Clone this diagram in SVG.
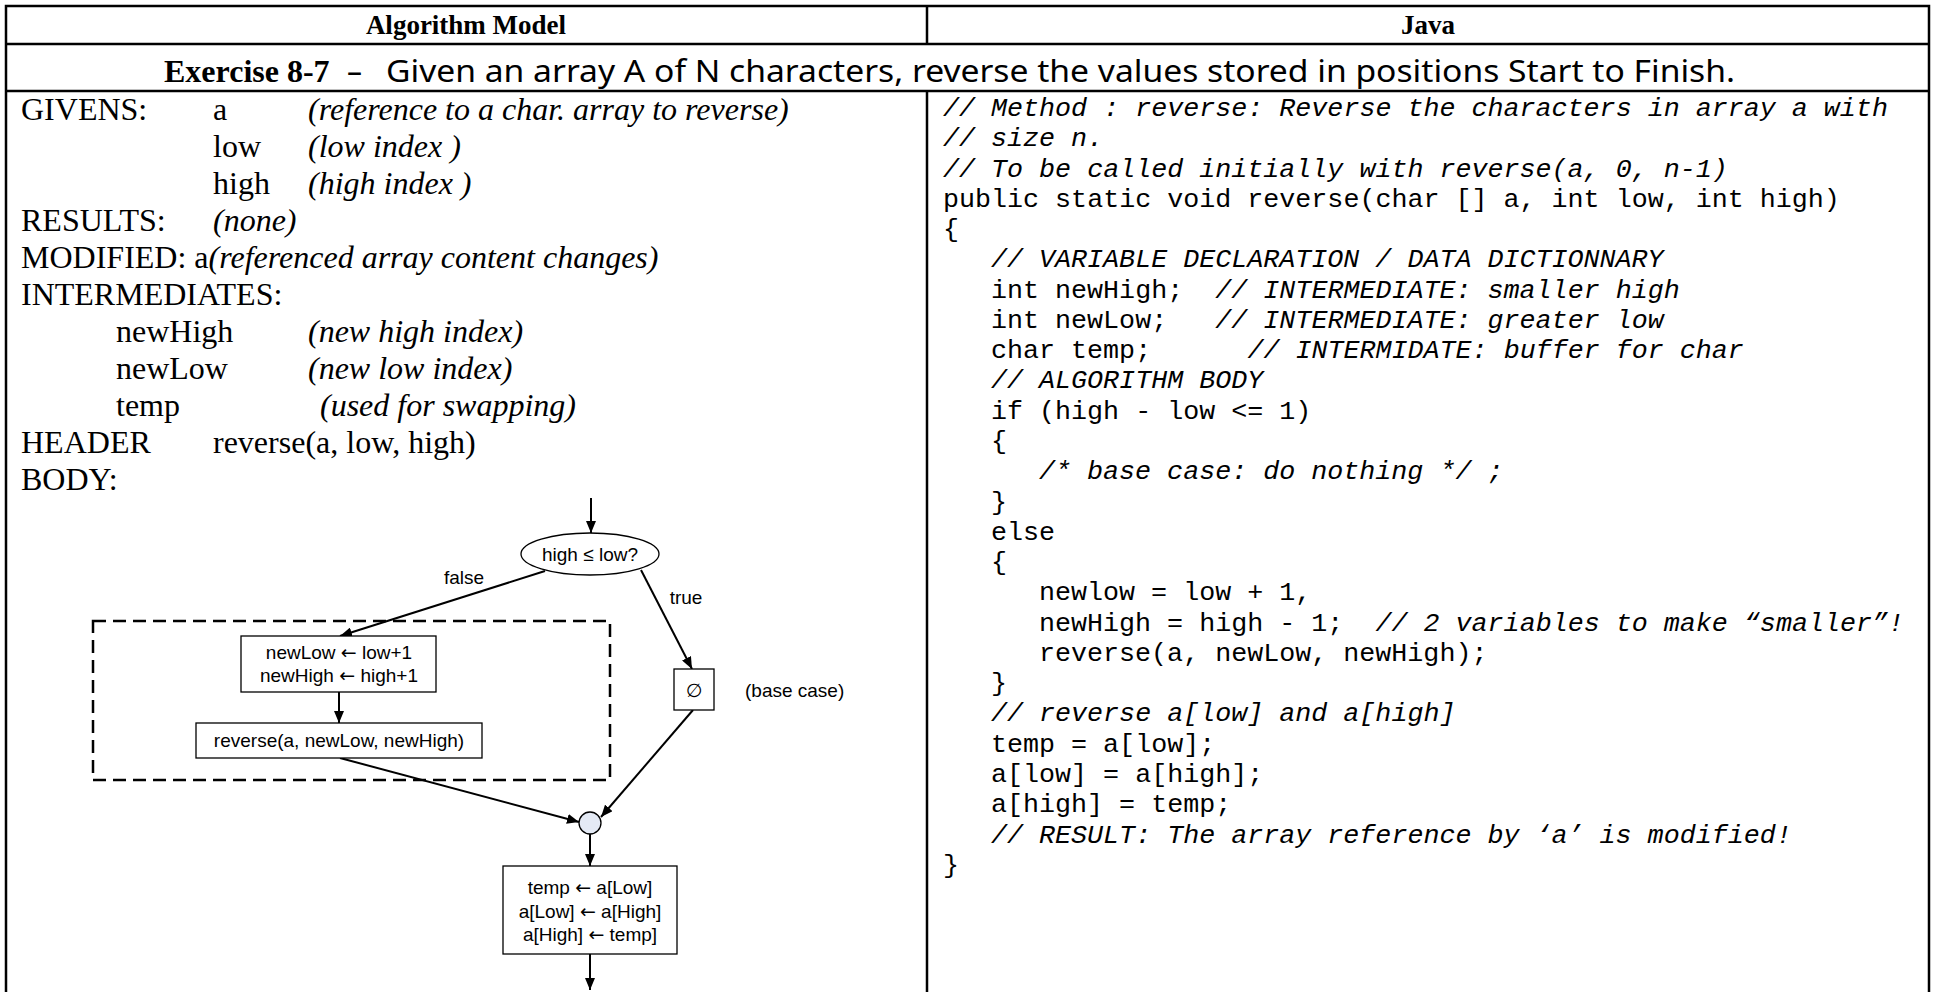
<svg xmlns="http://www.w3.org/2000/svg" width="1935" height="992" viewBox="0 0 1935 992">
<style>
.grid{stroke:#000;stroke-width:2.5;fill:none}
.hd{font-family:"Liberation Serif",serif;font-weight:bold;font-size:27px}
.ex{font-family:"Liberation Serif",serif;font-weight:bold;font-size:32px}
.cm{font-family:"Noto Sans",sans-serif;font-size:30px}
.tx{font-family:"Liberation Serif",serif;font-size:32px}
.it{font-style:italic}
.code{font-family:"Liberation Mono",monospace;font-size:26.7px}
.ci{font-style:italic}
.fc{font-family:"Liberation Sans","DejaVu Sans",sans-serif;font-size:19px}
.ar{font-family:"DejaVu Sans",sans-serif}
.box{fill:#fff;stroke:#000;stroke-width:1.3}
.edge{stroke:#000;stroke-width:2;fill:none;marker-end:url(#ah)}
</style>
<defs>
<marker id="ah" viewBox="0 0 12 10" refX="12" refY="5" markerWidth="12" markerHeight="10" markerUnits="userSpaceOnUse" orient="auto">
<path d="M0,0 L12,5 L0,10 z" fill="#000"/>
</marker>
</defs>
<rect width="1935" height="992" fill="#fff"/>

<!-- table grid and headings -->
<g id="table">
<path class="grid" d="M6,992 V6 H1929 V992 M6,44 H1929 M6,91 H1929 M927,6 V44 M927,91 V992"/>
<text class="hd" x="466" y="34" text-anchor="middle">Algorithm Model</text>
<text class="hd" x="1428" y="34" text-anchor="middle">Java</text>
<text class="ex" x="164" y="82">Exercise 8-7</text>
<text class="cm" x="347" y="82">–</text>
<text class="cm" x="386" y="82" textLength="1349" lengthAdjust="spacingAndGlyphs">Given an array A of N characters, reverse the values stored in positions Start to Finish.</text>
</g>

<!-- algorithm model text -->
<g id="model-text" class="tx">
<text x="21" y="120">GIVENS:</text><text x="213" y="120">a</text><text class="it" x="308" y="120">(reference to a char. array to reverse)</text>
<text x="213" y="157">low</text><text class="it" x="308" y="157">(low index )</text>
<text x="213" y="194">high</text><text class="it" x="308" y="194">(high index )</text>
<text x="21" y="231">RESULTS:</text><text class="it" x="213" y="231">(none)</text>
<text x="21" y="268">MODIFIED: a<tspan class="it">(referenced array content changes)</tspan></text>
<text x="21" y="305">INTERMEDIATES:</text>
<text x="116" y="342">newHigh</text><text class="it" x="308" y="342">(new high index)</text>
<text x="116" y="379">newLow</text><text class="it" x="308" y="379">(new low index)</text>
<text x="116" y="416">temp</text><text class="it" x="320" y="416">(used for swapping)</text>
<text x="21" y="453">HEADER</text><text x="213" y="453">reverse(a, low, high)</text>
<text x="21" y="490">BODY:</text>
</g>

<!-- java code: column 0 at x=943, one character = 16.02px -->
<g id="java-code" class="code">
<text class="ci" x="943" y="116">// Method : reverse: Reverse the characters in array a with</text>
<text class="ci" x="943" y="146.3">// size n.</text>
<text class="ci" x="943" y="176.5">// To be called initially with reverse(a, 0, n-1)</text>
<text x="943" y="206.8">public static void reverse(char [] a, int low, int high)</text>
<text x="943" y="237.1">{</text>
<text class="ci" x="991" y="267.4">// VARIABLE DECLARATION / DATA DICTIONNARY</text>
<text x="991" y="297.6">int newHigh;</text><text class="ci" x="1215.3" y="297.6">// INTERMEDIATE: smaller high</text>
<text x="991" y="327.9">int newLow;</text><text class="ci" x="1215.3" y="327.9">// INTERMEDIATE: greater low</text>
<text x="991" y="358.2">char temp;</text><text class="ci" x="1247.4" y="358.2">// INTERMIDATE:  buffer for char</text>
<text class="ci" x="991" y="388.4">// ALGORITHM BODY</text>
<text x="991" y="418.7">if (high - low &lt;= 1)</text>
<text x="991" y="449">{</text>
<text class="ci" x="1039" y="479.2">/* base case: do nothing */ ;</text>
<text x="991" y="509.5">}</text>
<text x="991" y="539.8">else</text>
<text x="991" y="570.1">{</text>
<text x="1039" y="600.3">newlow = low + 1,</text>
<text x="1039" y="630.6">newHigh = high - 1;</text><text class="ci" x="1375.5" y="630.6">// 2 variables to make “smaller”!</text>
<text x="1039" y="660.9">reverse(a, newLow, newHigh);</text>
<text x="991" y="691.1">}</text>
<text class="ci" x="991" y="721.4">// reverse a[low] and a[high]</text>
<text x="991" y="751.7">temp = a[low];</text>
<text x="991" y="781.9">a[low] = a[high];</text>
<text x="991" y="812.2">a[high] = temp;</text>
<text class="ci" x="991" y="842.5">// RESULT: The array reference by ‘a’ is modified!</text>
<text x="943" y="872.8">}</text>
</g>

<!-- flowchart connectors -->
<g id="connectors">
<rect x="93" y="621" width="517" height="159" fill="none" stroke="#000" stroke-width="2.5" stroke-dasharray="13,7"/>
<path class="edge" d="M591,498 V533"/>
<path class="edge" d="M545,571 L340,636"/>
<path class="edge" d="M641,570 L692,669"/>
<path class="edge" d="M339,692 V723"/>
<path class="edge" d="M340,758 L579,822"/>
<path class="edge" d="M693,710 L601,817"/>
<path class="edge" d="M590,834 V866"/>
<path class="edge" d="M590,954 V990"/>
<text class="fc" x="464" y="584" text-anchor="middle">false</text>
<text class="fc" x="686" y="604" text-anchor="middle">true</text>
</g>

<!-- flowchart nodes -->
<g id="decision">
<ellipse cx="590" cy="554" rx="69" ry="21" class="box"/>
<text class="fc" x="590" y="561" text-anchor="middle">high ≤ low?</text>
</g>
<g id="update-indices">
<rect x="241" y="636" width="195" height="56" class="box"/>
<text class="fc" x="339" y="659" text-anchor="middle">newLow <tspan class="ar">←</tspan> low+1</text>
<text class="fc" x="339" y="682" text-anchor="middle">newHigh <tspan class="ar">←</tspan> high+1</text>
</g>
<g id="recursive-call">
<rect x="196" y="723" width="286" height="35" class="box"/>
<text class="fc" x="339" y="747" text-anchor="middle">reverse(a, newLow, newHigh)</text>
</g>
<g id="base-case">
<rect x="674" y="669" width="40" height="41" class="box"/>
<text class="fc" x="694" y="697" text-anchor="middle">∅</text>
<text class="fc" x="745" y="697">(base case)</text>
</g>
<g id="join">
<circle cx="590" cy="823" r="11" fill="#e4eaf5" stroke="#000" stroke-width="1.3"/>
</g>
<g id="swap">
<rect x="503" y="866" width="174" height="88" class="box"/>
<text class="fc" x="590" y="894" text-anchor="middle">temp <tspan class="ar">←</tspan> a[Low]</text>
<text class="fc" x="590" y="918" text-anchor="middle">a[Low] <tspan class="ar">←</tspan> a[High]</text>
<text class="fc" x="590" y="941" text-anchor="middle">a[High] <tspan class="ar">←</tspan> temp]</text>
</g>
</svg>
